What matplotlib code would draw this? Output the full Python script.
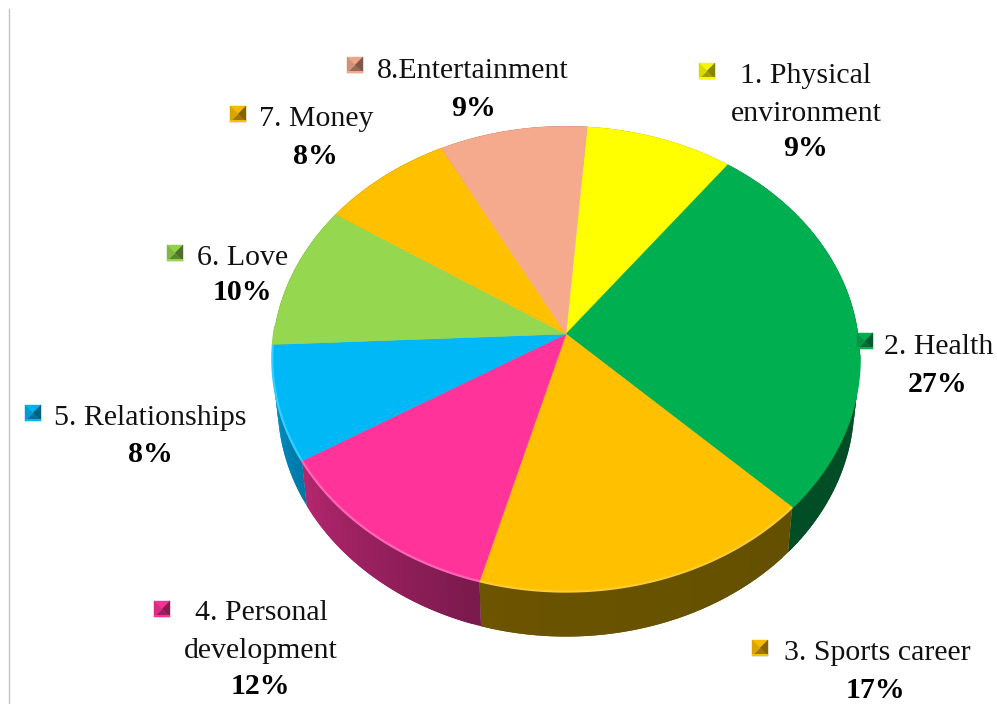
import numpy as np
import matplotlib
matplotlib.use("Agg")
import matplotlib.pyplot as plt
from matplotlib.colors import to_rgb

# ---- data ----
categories = [["1. Physical", "environment"], ["2. Health"], ["3. Sports career"], ["4. Personal", "development"],
              ["5. Relationships"], ["6. Love"], ["7. Money"], ["8.Entertainment"]]
values = [9, 27, 17, 12, 8, 10, 8, 9]
colors = ["#FFFF00", "#00B050", "#FFC000", "#FF3399", "#00B8F5", "#96D750", "#FFC000", "#F5AA8D"]
side_start = ["#7F7F00", "#004D26", "#635000", "#7A1A4D", "#0078A8", "#4A6B28", "#7F6000", "#7A5546"]
side_end = ["#7F7F00", "#004D26", "#6C5400", "#B3266E", "#0098D0", "#4A6B28", "#7F6000", "#7A5546"]
rim = ["#FFFF00", "#00B050", "#FFCC33", "#FF66B8", "#33D0FF", "#96D750", "#FFC000", "#F5AA8D"]

# label layout, in pixels (first-line centre)
label_xy = [(806, 76), (939, 347), (877, 653), (261, 613), (150, 418), (243, 258), (316, 119), (473, 71)]
pct_xy = [(805, 149), (938, 384), (875, 690), (260, 686), (150, 454), (242, 293), (315, 156), (473, 108)]
marker_xy = [(707, 71), (865, 341), (760, 648), (162, 609), (33, 413), (175, 253), (238, 114), (355, 65)]
line_step = 38

# projection of the pie
cx, cy = 566, 334
persp = 0.107
scale_x, scale_y = 292.0, 230.0
depth = 45
floor_shrink = 0.982
start_deg = 4.6


def project(theta):
    """Clockwise angle from twelve o'clock (degrees) to pixels on the pie's rim."""
    t = np.radians(theta)
    u, v = np.sin(t), np.cos(t)
    w = 1 + persp * v
    return cx + scale_x * u / w, cy - scale_y * v / w


fig = plt.figure(figsize=(9.97, 7.04), dpi=100)
ax = fig.add_axes([0, 0, 1, 1])
ax.set_xlim(0, 997)
ax.set_ylim(704, 0)
ax.axis("off")

ax.plot([8.5, 8.5], [9, 704], color="#C4C4C4", lw=1.0, zorder=1)

edges = start_deg + np.cumsum([0] + values) * 3.6

# side walls: overlapping strips, painted in angular order, so no seams show
for i in range(len(values)):
    a0, a1 = edges[i], edges[i + 1]
    n = max(4, int((a1 - a0) / 1.5))
    th = np.linspace(a0, a1, n + 1)
    c0, c1 = np.array(to_rgb(side_start[i])), np.array(to_rgb(side_end[i]))
    for j in range(n):
        stop = th[min(j + 2, n)]
        t_seg = np.linspace(th[j], stop, 6)
        x, y = project(t_seg)
        xb = cx + (x - cx) * floor_shrink
        f = j / max(n - 1, 1)
        col = c0 * (1 - f) + c1 * f
        ax.fill(np.r_[x, xb[::-1]], np.r_[y, (y + depth)[::-1]], color=col, lw=0, zorder=2)

# top face
for i in range(len(values)):
    th = np.linspace(edges[i], edges[i + 1], 120)
    x, y = project(th)
    ax.fill(np.r_[cx, x], np.r_[cy, y], color=colors[i], lw=0.4, zorder=4)

# lit rim of the near edge
for i in range(len(values)):
    lo, hi = max(edges[i], 95), min(edges[i + 1], 272)
    if hi > lo:
        x, y = project(np.linspace(lo, hi, 80))
        ax.plot(x, y, color=rim[i], lw=1.6, zorder=5, solid_capstyle="butt")

# labels
serif = "Liberation Serif"
for i, lines in enumerate(categories):
    lx, ly = label_xy[i]
    for k, line in enumerate(lines):
        ax.text(lx, ly + k * line_step, line, family=serif, fontsize=21.5, color="#111111",
                ha="center", va="center", zorder=6)
    ax.text(*pct_xy[i], f"{values[i]}%", family=serif, fontsize=21.5, fontweight="bold",
            color="black", ha="center", va="center", zorder=6)

# bevelled legend keys
half = 8
for i, (mx, my) in enumerate(marker_xy):
    base = np.array(to_rgb(colors[i]))
    outer = [(mx - half, my - half), (mx + half, my - half), (mx + half, my + half), (mx - half, my + half)]
    shades = [0.97, 0.52, 0.62, 0.85]  # top, right, bottom, left
    for k in range(4):
        p, q = outer[k], outer[(k + 1) % 4]
        ax.fill([p[0], q[0], mx], [p[1], q[1], my], color=base * shades[k], lw=0.3, zorder=7)
    ax.plot([mx - half, mx + half], [my + half - 0.8] * 2, color=base, lw=1.4, zorder=8, solid_capstyle="butt")

fig.savefig("out.png", dpi=100, facecolor="white")
